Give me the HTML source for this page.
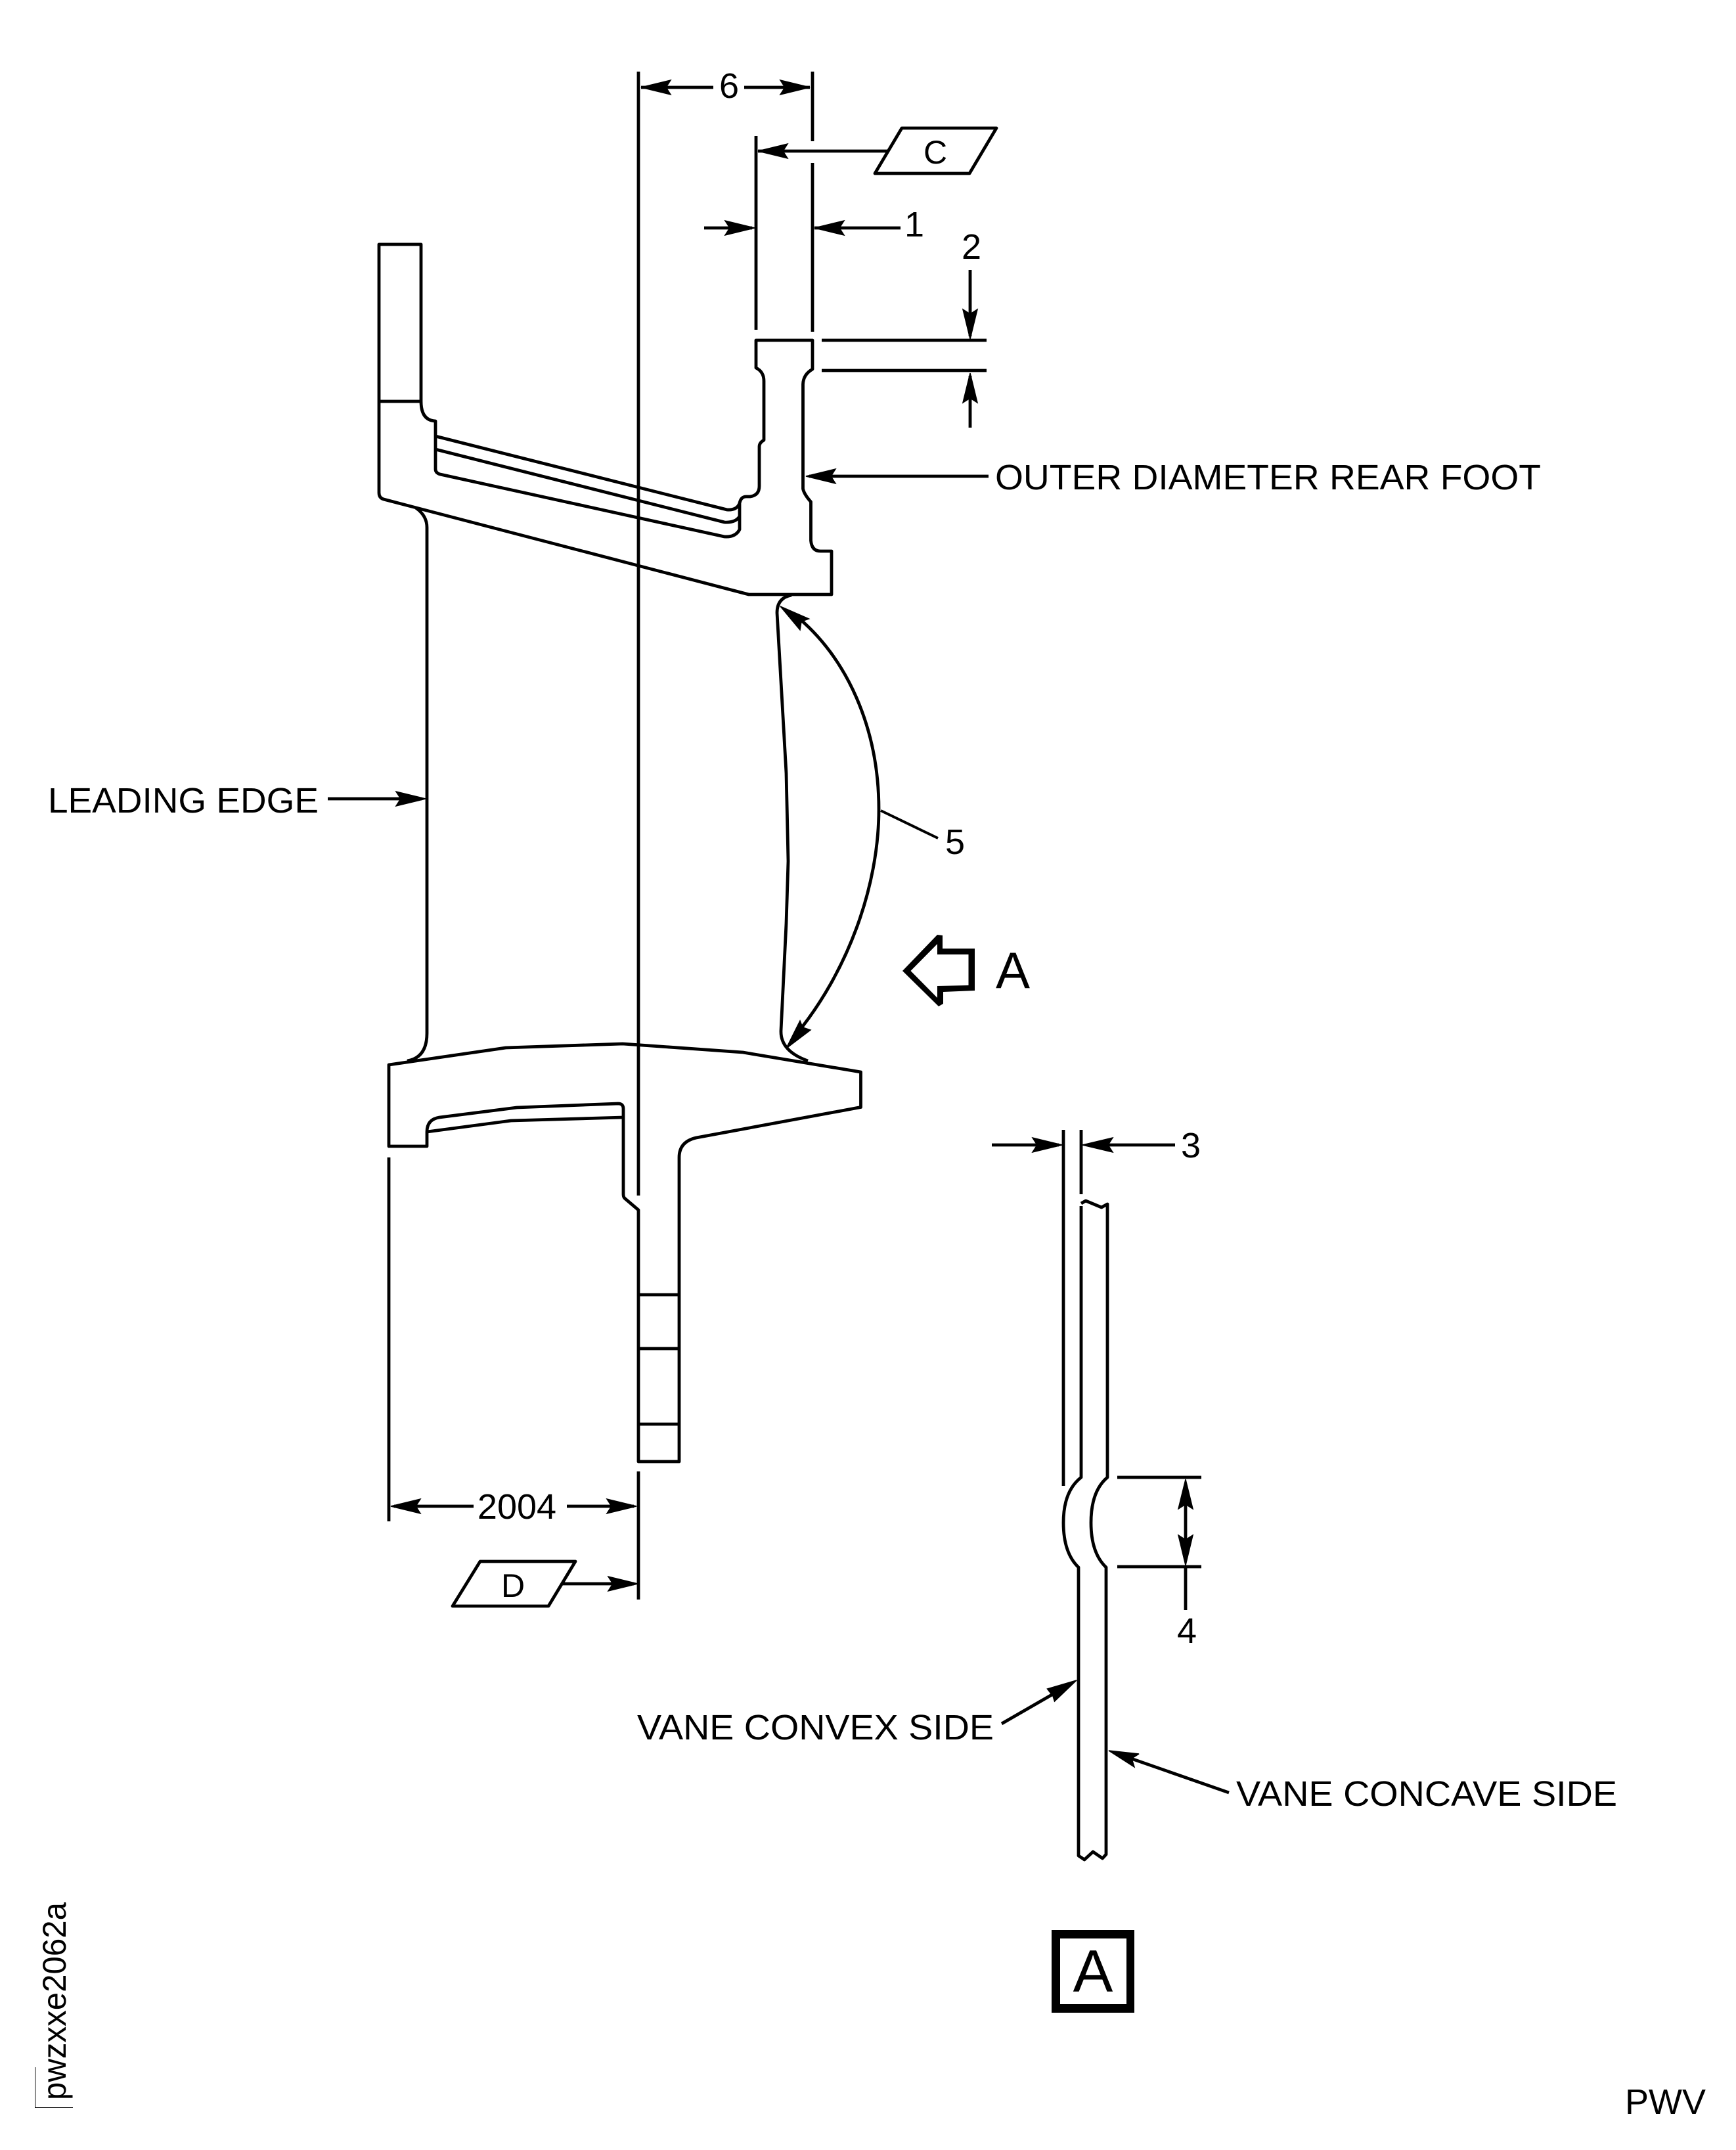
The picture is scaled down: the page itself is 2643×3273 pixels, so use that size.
<!DOCTYPE html>
<html><head><meta charset="utf-8"><style>
html,body{margin:0;padding:0;background:#fff}
svg{display:block}
text{font-family:"Liberation Sans",sans-serif;fill:#000}
polygon{stroke:#000;stroke-width:1.5;stroke-linejoin:miter;stroke-miterlimit:3}
.l{fill:none;stroke:#000;stroke-width:4.8;stroke-linejoin:round}
.t{fill:none;stroke:#000;stroke-width:4}
</style></head><body>
<svg xmlns="http://www.w3.org/2000/svg" width="2643" height="3273" viewBox="0 0 2643 3273">
<rect width="2643" height="3273" fill="#fff"/>
<!-- extension lines -->
<path class="l" d="M972,109V1820M972,2240V2435M1237,109V215M1237,248V505M1151,207V502M592,1762V2316"/>
<!-- upper part -->
<path class="l" d="M1151,518H1237V562Q1223,570 1222.5,585V744Q1224,752 1234.5,764V823Q1236,839 1249,839H1266V905H1140L584,760Q577,758 577,750V372H641V611Q641,640 663,641V714Q663,720 670,722L1103,817Q1120,818 1126,806V766Q1128,756 1136,756H1142Q1156,754 1156,740V680Q1156,674 1163,670V580Q1163,566 1151,560Z"/>
<path class="l" d="M577,611H641M663,664L1107,776Q1122,777 1126,766M663,684L1103,795Q1120,796 1126,786"/>
<!-- vane -->
<path class="l" d="M633,773Q650,785 650,803V1573Q650,1610 620,1615"/>
<path class="l" d="M1205,906Q1183,910 1183,933L1197,1177L1200,1311L1197,1406L1189,1569Q1188,1600 1230,1615"/>
<!-- lower part -->
<path class="l" d="M592,1621L770,1595L948,1589L1131,1602L1310.5,1632V1685.5L1060,1732Q1034,1738 1034,1762V2225H972V1842L952,1825Q949,1823 949,1818V1688Q949,1680 941,1680L787,1686L669,1701Q650,1704 650,1723V1745H592Z"/>
<path class="l" d="M650,1723L778,1706L949,1701M972,1971H1033M972,2053H1033M972,2168H1033"/>
<!-- dim 6 -->
<path class="l" d="M976,133H1086M1133,133H1233"/>
<polygon points="976,133 1021,122 1014,133 1021,144"/><polygon points="1233,133 1188,122 1195,133 1188,144"/>
<text x="1110" y="149" font-size="54" text-anchor="middle">6</text>
<!-- C -->
<polygon class="l" points="1373,195 1517,195 1476,264 1332,264"/>
<path class="l" d="M1154,230H1352"/><polygon points="1154,230 1199,219 1192,230 1199,241"/>
<text x="1424" y="249" font-size="50" text-anchor="middle">C</text>
<!-- dim 1 -->
<path class="l" d="M1072,347H1145M1240,347H1371"/>
<polygon points="1149,347 1104,336 1111,347 1104,358"/><polygon points="1240,347 1285,336 1278,347 1285,358"/>
<text x="1392" y="360" font-size="54" text-anchor="middle">1</text>
<!-- dim 2 -->
<text x="1479" y="394" font-size="54" text-anchor="middle">2</text>
<path class="l" d="M1477,411V512M1251,518H1502M1251,564H1502M1477,572V651"/>
<polygon points="1477,516 1466,471 1477,478 1488,471"/><polygon points="1477,568 1466,613 1477,606 1488,613"/>
<!-- outer diameter -->
<path class="l" d="M1232,725H1505"/><polygon points="1227,725 1272,714 1265,725 1272,736"/>
<text x="1515" y="745" font-size="54" textLength="831" lengthAdjust="spacingAndGlyphs">OUTER DIAMETER REAR FOOT</text>
<!-- leading edge -->
<text x="73" y="1237" font-size="54" textLength="412" lengthAdjust="spacingAndGlyphs">LEADING EDGE</text>
<path class="l" d="M499,1216H642"/><polygon points="648,1216 603,1205 610,1216 603,1227"/>
<!-- arc 5 -->
<path class="l" d="M1210,936C1290,1000 1338,1110 1338,1232C1338,1350 1290,1480 1212,1575"/>
<polygon points="1188,923 1231.5,942 1220,946 1218,959"/><polygon points="1197,1596 1218,1554 1222,1564 1234,1568"/>
<path class="t" d="M1341,1234L1428,1276"/>
<text x="1454" y="1300" font-size="54" text-anchor="middle">5</text>
<!-- view arrow A -->
<path fill-rule="evenodd" d="M1374,1478L1427,1423L1435,1424V1444H1484V1508L1436,1510V1528L1429,1532ZM1386.5,1478L1427,1519V1501L1474.5,1500V1453H1427V1437Z"/>
<text x="1542" y="1504" font-size="78" text-anchor="middle">A</text>
<!-- dim 2004 -->
<path class="l" d="M600,2293H721M863,2293H965"/>
<polygon points="595,2293 640,2282 633,2293 640,2304"/><polygon points="969,2293 924,2282 931,2293 924,2304"/>
<text x="787" y="2312" font-size="54" text-anchor="middle">2004</text>
<!-- D -->
<polygon class="l" points="731,2377 876,2377 835,2445 689,2445"/>
<path class="l" d="M856,2411H965"/><polygon points="971,2411 926,2400 933,2411 926,2422"/>
<text x="781" y="2431" font-size="50" text-anchor="middle">D</text>
<!-- detail A -->
<path class="l" d="M1619,1720V2262M1646,1720V1818"/>
<path class="l" d="M1510,1743H1612M1655,1743H1789"/>
<polygon points="1617,1743 1572,1732 1579,1743 1572,1754"/><polygon points="1648,1743 1694,1732 1687,1743 1694,1754"/>
<text x="1813" y="1762" font-size="54" text-anchor="middle">3</text>
<path class="l" d="M1646,1836V2249Q1619,2270 1619,2318Q1619,2364 1642,2386V2825L1651,2831L1664,2819L1678.5,2829L1684,2823V2386Q1661,2364 1661,2318Q1661,2270 1686,2249V1833L1677,1838L1653,1828L1646,1832"/>
<path class="l" d="M1701,2249H1829M1701,2385H1829M1805,2290V2345M1805,2385V2451"/>
<polygon points="1805,2252 1794,2297 1805,2290 1816,2297"/><polygon points="1805,2383 1794,2337 1805,2344 1816,2337"/>
<text x="1807" y="2501" font-size="54" text-anchor="middle">4</text>
<path class="l" d="M1525,2624L1610,2575M1871,2729L1722,2677"/>
<polygon points="1639,2558 1594.5,2571 1603,2582 1605.5,2590"/>
<polygon points="1688,2665 1734,2670 1723,2677 1727,2690"/>
<text x="970" y="2648" font-size="54" textLength="543" lengthAdjust="spacingAndGlyphs">VANE CONVEX SIDE</text>
<text x="1882" y="2749" font-size="54" textLength="580" lengthAdjust="spacingAndGlyphs">VANE CONCAVE SIDE</text>
<!-- box A -->
<path fill-rule="evenodd" d="M1601,2938H1727V3064H1601ZM1614,2951V3051H1715V2951Z"/>
<text x="1664" y="3032" font-size="91" text-anchor="middle">A</text>
<text x="2474" y="3218" font-size="54" textLength="123" lengthAdjust="spacingAndGlyphs">PWV</text>
<!-- side note -->
<text transform="translate(100,3197) rotate(-90)" font-size="50" textLength="301" lengthAdjust="spacingAndGlyphs">pwzxxe2062a</text>
<path d="M53.5,3147V3208.5H111" fill="none" stroke="#000" stroke-width="1"/>
</svg>
</body></html>
